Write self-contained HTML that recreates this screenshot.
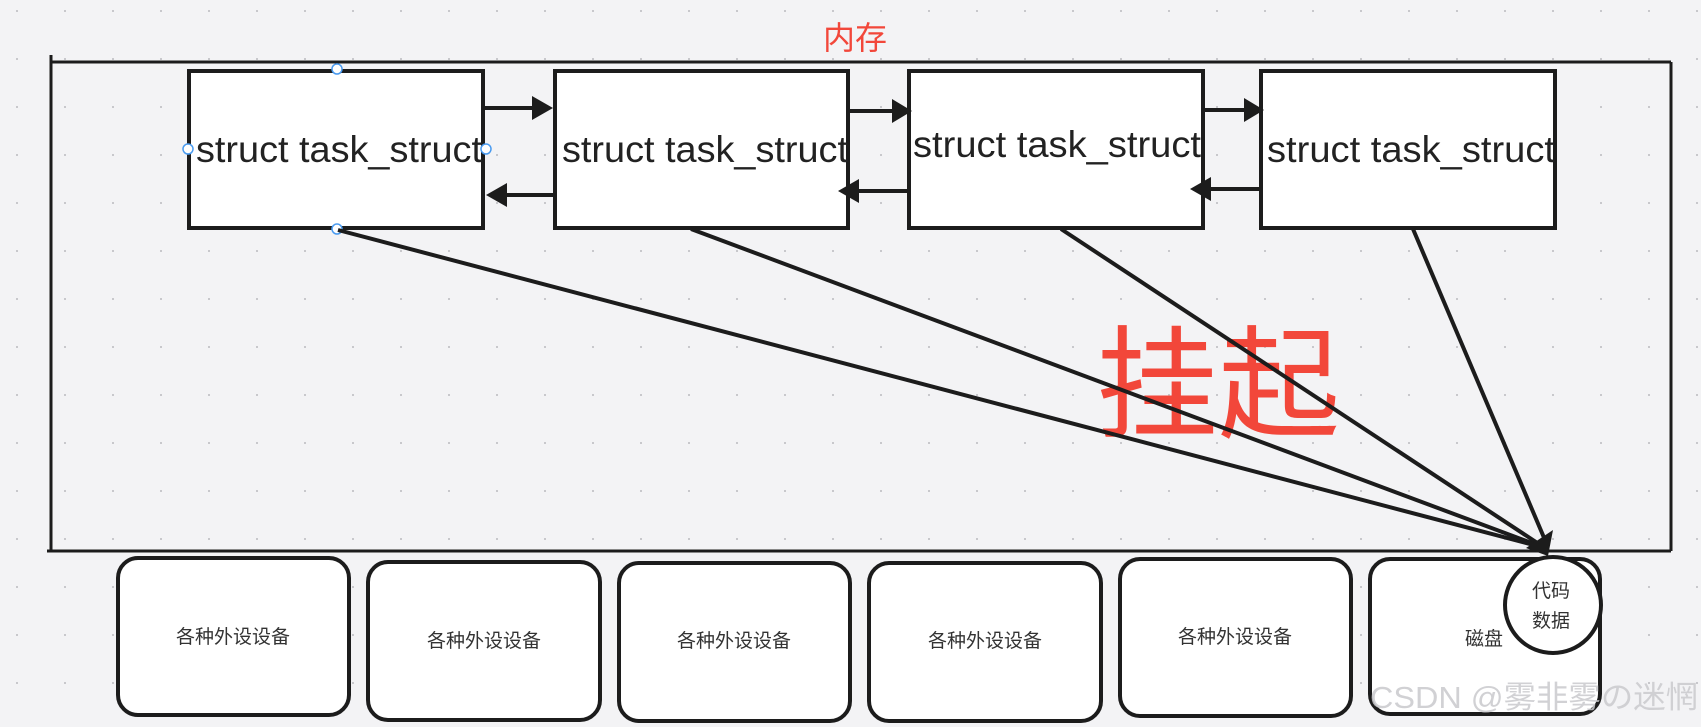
<!DOCTYPE html>
<html><head><meta charset="utf-8"><style>
html,body{margin:0;padding:0;background:#f3f3f5;}
svg{display:block;}
</style></head><body>
<svg width="1701" height="727" viewBox="0 0 1701 727" xmlns="http://www.w3.org/2000/svg">
<defs>
<pattern id="dots" x="0" y="0" width="48" height="48" patternUnits="userSpaceOnUse">
<rect x="16" y="10" width="2" height="2" fill="#c8c8cc"/>
</pattern>
</defs>
<rect width="1701" height="727" fill="#f3f3f5"/>
<rect width="1701" height="727" fill="url(#dots)"/>
<text x="855" y="49" font-family="Liberation Sans, Noto Sans CJK SC, sans-serif" font-size="32" fill="#f2473a" text-anchor="middle">内存</text>
<g stroke="#1c1c1c" stroke-width="3" fill="none">
<line x1="51" y1="55" x2="51" y2="550"/>
<line x1="51" y1="62" x2="1671" y2="62"/>
<line x1="1671" y1="62" x2="1671" y2="551"/>
<line x1="47" y1="551" x2="1671" y2="551"/>
</g>
<g stroke="#1c1c1c" stroke-width="4" fill="#fff">
<rect x="189" y="71" width="294" height="157"/>
<rect x="555" y="71" width="293" height="157"/>
<rect x="909" y="71" width="294" height="157"/>
<rect x="1261" y="71" width="294" height="157"/>
</g>
<g font-family="Liberation Sans, sans-serif" font-size="37" fill="#222" lengthAdjust="spacingAndGlyphs">
<text x="196" y="162" textLength="286" lengthAdjust="spacingAndGlyphs">struct task_struct</text>
<text x="562" y="162" textLength="286" lengthAdjust="spacingAndGlyphs">struct task_struct</text>
<text x="913" y="157" textLength="288" lengthAdjust="spacingAndGlyphs">struct task_struct</text>
<text x="1267" y="162" textLength="288" lengthAdjust="spacingAndGlyphs">struct task_struct</text>
</g>
<g fill="#fff" stroke="#4a9bf0" stroke-width="1.5">
<circle cx="337" cy="69" r="5"/><circle cx="337" cy="229" r="5"/>
<circle cx="188" cy="149" r="5"/><circle cx="486" cy="149" r="5"/>
</g>
<g stroke="#1c1c1c" stroke-width="4">
<line x1="485" y1="108" x2="540" y2="108"/>
<line x1="848" y1="111" x2="893" y2="111"/>
<line x1="1203" y1="110" x2="1245" y2="110"/>
<line x1="555" y1="195" x2="505" y2="195"/>
<line x1="909" y1="191" x2="855" y2="191"/>
<line x1="1261" y1="189" x2="1210" y2="189"/>
</g>
<g fill="#1c1c1c">
<polygon points="553,108 532,96 532,120"/>
<polygon points="912,111 892,99 892,123"/>
<polygon points="1264,110 1244,98 1244,122"/>
<polygon points="486,195 507,183 507,207"/>
<polygon points="838,191 859,179 859,203"/>
<polygon points="1190,189 1211,177 1211,201"/>
</g>
<text x="1096" y="428" font-family="Liberation Sans, Noto Sans CJK SC, sans-serif" font-size="122" fill="#f2473a">挂起</text>
<g stroke="#1c1c1c" stroke-width="4" fill="none">
<line x1="338" y1="230" x2="1545" y2="548"/>
<line x1="691" y1="229" x2="1545" y2="548"/>
<line x1="1061" y1="229" x2="1545" y2="548"/>
<line x1="1413" y1="229" x2="1545" y2="540"/>
</g>
<polygon points="1553,530 1548,556 1526,548" fill="#1c1c1c"/>
<g stroke="#1c1c1c" stroke-width="4" fill="#fff">
<rect x="118" y="558" width="231" height="157" rx="20"/>
<rect x="368" y="562" width="232" height="158" rx="20"/>
<rect x="619" y="563" width="231" height="158" rx="20"/>
<rect x="869" y="563" width="232" height="158" rx="20"/>
<rect x="1120" y="559" width="231" height="157" rx="20"/>
<rect x="1370" y="559" width="230" height="155" rx="20"/>
</g>
<g font-family="Liberation Sans, Noto Sans CJK SC, sans-serif" font-size="19" fill="#333" text-anchor="middle">
<text x="233" y="643">各种外设设备</text>
<text x="484" y="647">各种外设设备</text>
<text x="734" y="647">各种外设设备</text>
<text x="985" y="647">各种外设设备</text>
<text x="1235" y="643">各种外设设备</text>
<text x="1484" y="645">磁盘</text>
</g>
<circle cx="1553" cy="605" r="48" fill="#fff" stroke="#1c1c1c" stroke-width="4"/>
<g font-family="Liberation Sans, Noto Sans CJK SC, sans-serif" font-size="19" fill="#333" text-anchor="middle">
<text x="1551" y="597">代码</text>
<text x="1551" y="627">数据</text>
</g>
<text x="1370" y="708" font-family="Liberation Sans, Noto Sans CJK SC, sans-serif" font-size="31" fill="#c9c9cc" fill-opacity="0.85" textLength="328" lengthAdjust="spacingAndGlyphs">CSDN @雾非雾の迷惘</text>
</svg>
</body></html>
